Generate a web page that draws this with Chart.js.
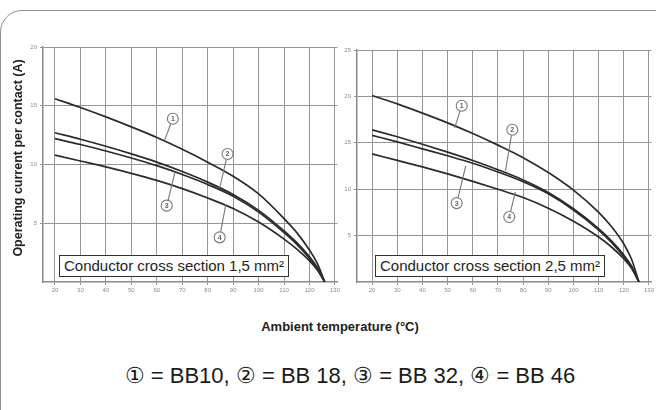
<!DOCTYPE html>
<html>
<head>
<meta charset="utf-8">
<script src="https://cdn.jsdelivr.net/npm/chart.js@4.4.1/dist/chart.umd.min.js"></script>
<style>
  html, body { margin: 0; padding: 0; background: #fff; }
  body { width: 656px; height: 410px; position: relative; overflow: hidden; font-family: "Liberation Sans", Arial, sans-serif; color: #222; }
  .card { position: absolute; left: 0; top: 10px; width: 720px; height: 460px; border: 1.5px solid #8f8f8f; border-radius: 22px; box-sizing: border-box; }
  canvas { position: absolute; }
  #left { left: 20px; top: 40px; }
  #right { left: 337px; top: 40px; }
  .box { position: absolute; background: #fff; border: 1px solid #333; font-size: 15px; line-height: 20px; padding: 0 4px; white-space: nowrap; color: #1e1e1e; }
  .ytitle { position: absolute; left: -112px; top: 150px; width: 260px; height: 16px; line-height: 16px; text-align: center; font-weight: bold; font-size: 12.5px; transform: rotate(-90deg); }
  .xtitle { position: absolute; left: 190px; top: 319px; width: 300px; text-align: center; font-weight: bold; font-size: 13px; }
  .legend { position: absolute; left: 0; top: 363px; width: 700px; text-align: center; font-size: 22px; color: #1a1a1a; }
</style>
</head>
<body>
<div class="card"></div>
<canvas id="left" width="322" height="254"></canvas>
<canvas id="right" width="319" height="254"></canvas>
<div class="box" style="left:59px; top:255px;">Conductor cross section 1,5 mm²</div>
<div class="box" style="left:375px; top:255px;">Conductor cross section 2,5 mm²</div>
<div class="ytitle">Operating current per contact (A)</div>
<div class="xtitle">Ambient temperature (°C)</div>
<div class="legend">① = BB10, ② = BB 18, ③ = BB 32, ④ = BB 46</div>

<script>
const temps = [20, 30, 40, 50, 60, 70, 80, 90, 100, 110, 115, 120, 123, 126];
const xTicks = [20, 30, 40, 50, 60, 70, 80, 90, 100, 110, 120, 130];
const yTicks15 = [5, 10, 15, 20];
const yTicks25 = [5, 10, 15, 20, 25];

// conductor 1,5 mm²
const bb10_15 = [15.6, 14.85, 14.05, 13.2, 12.3, 11.3, 10.2, 9.0, 7.5, 5.4, 4.2, 2.7, 1.6, 0];
const bb18_15 = [12.7, 12.15, 11.55, 10.9, 10.2, 9.4, 8.5, 7.45, 6.1, 4.35, 3.35, 2.15, 1.25, 0];
const bb32_15 = [12.2, 11.7, 11.15, 10.55, 9.9, 9.15, 8.3, 7.3, 5.95, 4.2, 3.2, 2.0, 1.15, 0];
const bb46_15 = [10.8, 10.3, 9.8, 9.25, 8.65, 7.95, 7.15, 6.25, 5.1, 3.65, 2.8, 1.8, 1.05, 0];

// conductor 2,5 mm²
const bb10_25 = [20.1, 19.2, 18.2, 17.15, 16.0, 14.75, 13.4, 11.8, 9.9, 7.5, 6.0, 4.1, 2.5, 0];
const bb18_25 = [16.4, 15.65, 14.85, 14.0, 13.1, 12.1, 11.0, 9.65, 7.9, 5.75, 4.45, 2.9, 1.75, 0];
const bb32_25 = [15.8, 15.1, 14.35, 13.6, 12.8, 11.85, 10.8, 9.5, 7.75, 5.6, 4.3, 2.75, 1.65, 0];
const bb46_25 = [13.8, 13.1, 12.4, 11.65, 10.85, 10.0, 9.1, 7.95, 6.55, 4.85, 3.8, 2.5, 1.5, 0];

const seriesNames = ["BB10", "BB 18", "BB 32", "BB 46"];

// callout markers: [label, T at circle, I at circle, T at curve, I at curve]
const notes15 = [
  ["1", 66.3, 13.9, 63.1, 12.1],
  ["2", 87.8, 10.9, 84.7, 8.0],
  ["3", 63.9, 6.5, 67.1, 9.3],
  ["4", 84.7, 3.8, 87.1, 6.6],
];
const notes25 = [
  ["1", 55.6, 19.0, 52.8, 16.6],
  ["2", 75.7, 16.4, 73.0, 12.0],
  ["3", 53.6, 8.5, 57.2, 12.5],
  ["4", 74.5, 7.0, 76.9, 9.7],
];

const calloutPlugin = {
  id: "callouts",
  afterDatasetsDraw(chart, args, opts) {
    const { ctx, scales: { x, y } } = chart;
    ctx.save();
    ctx.strokeStyle = "#777";
    ctx.lineWidth = 1.1;
    ctx.font = "bold 7px 'Liberation Sans', Arial";
    ctx.textAlign = "center";
    ctx.textBaseline = "middle";
    (opts.notes || []).forEach(([lab, t1, i1, t2, i2]) => {
      const cx = x.getPixelForValue(t1), cy = y.getPixelForValue(i1);
      const ex = x.getPixelForValue(t2), ey = y.getPixelForValue(i2);
      const r = 5.5;
      const d = Math.hypot(ex - cx, ey - cy) || 1;
      ctx.beginPath();
      ctx.moveTo(cx + (ex - cx) / d * r, cy + (ey - cy) / d * r);
      ctx.lineTo(ex, ey);
      ctx.stroke();
      ctx.beginPath();
      ctx.fillStyle = "#fff";
      ctx.arc(cx, cy, r, 0, Math.PI * 2);
      ctx.fill();
      ctx.stroke();
      ctx.fillStyle = "#666";
      ctx.fillText(lab, cx, cy + 0.5);
    });
    ctx.restore();
  },
};

function makeChart(id, series, yMax, yTicks, xMin, yAxisW, pad, notes) {
  const ctx = document.getElementById(id).getContext("2d");
  return new Chart(ctx, {
    type: "line",
    data: {
      datasets: series.map((vals, k) => ({
        label: seriesNames[k],
        data: temps.map((t, j) => ({ x: t, y: vals[j] })),
        borderColor: "#2b2b2b",
        borderWidth: 1.7,
        pointRadius: 0,
        cubicInterpolationMode: "monotone",
        fill: false,
      })),
    },
    options: {
      responsive: false,
      animation: false,
      layout: { padding: pad },
      plugins: { legend: { display: false }, tooltip: { enabled: false }, callouts: { notes } },
      scales: {
        x: {
          type: "linear",
          min: xMin,
          max: 131,
          afterBuildTicks: (s) => { s.ticks = xTicks.map((v) => ({ value: v })); },
          afterFit: (s) => { s.height = 12; },
          grid: { color: "#959595", lineWidth: 1, tickLength: 3 },
          border: { color: "#8a8a8a", width: 1.5 },
          ticks: { autoSkip: false, maxRotation: 0, padding: 2, color: "#8c8c8c", font: { size: 6, family: "'Liberation Sans', Arial" } },
        },
        y: {
          type: "linear",
          min: 0,
          max: yMax,
          afterBuildTicks: (s) => { s.ticks = yTicks.map((v) => ({ value: v })); },
          afterFit: (s) => { s.width = yAxisW; },
          grid: { color: "#959595", lineWidth: 1, tickLength: 3 },
          border: { color: "#8a8a8a", width: 1.5 },
          ticks: { padding: 3, color: "#8c8c8c", font: { size: 6, family: "'Liberation Sans', Arial" } },
        },
      },
    },
    plugins: [calloutPlugin],
  });
}

makeChart("left", [bb10_15, bb18_15, bb32_15, bb46_15], 20, yTicks15, 15.3, 23, { top: 7, right: 0, left: 0, bottom: 0 }, notes15);
makeChart("right", [bb10_25, bb18_25, bb32_25, bb46_25], 25, yTicks25, 14, 20, { top: 10, right: 0, left: 0, bottom: 0 }, notes25);
</script>
</body>
</html>
